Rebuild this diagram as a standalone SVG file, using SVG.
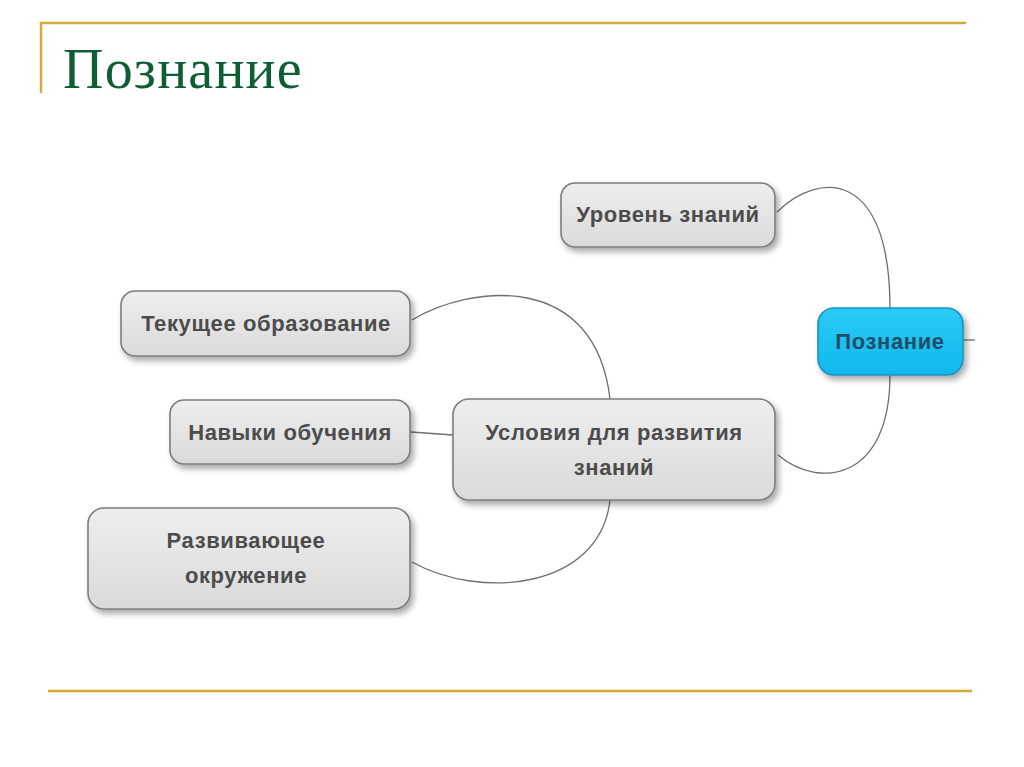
<svg xmlns="http://www.w3.org/2000/svg" width="1024" height="767" viewBox="0 0 1024 767">
<defs>
<linearGradient id="gGray" x1="0" y1="0" x2="0" y2="1">
<stop offset="0" stop-color="#eeeeee"/>
<stop offset="1" stop-color="#dadada"/>
</linearGradient>
<linearGradient id="gBlue" x1="0" y1="0" x2="0" y2="1">
<stop offset="0" stop-color="#2ccaf6"/>
<stop offset="1" stop-color="#10b8ec"/>
</linearGradient>
<filter id="sh" x="-10%" y="-20%" width="130%" height="150%">
<feGaussianBlur in="SourceAlpha" stdDeviation="3"/>
<feOffset dx="3" dy="4" result="b"/>
<feComponentTransfer><feFuncA type="linear" slope="0.35"/></feComponentTransfer>
<feMerge><feMergeNode/><feMergeNode in="SourceGraphic"/></feMerge>
</filter>
</defs>
<style>
.frame{stroke:#d6a935;stroke-width:2.5;fill:none}
.title{font-family:"Liberation Serif","Times New Roman",serif;font-size:56px;letter-spacing:1.2px;fill:#0d5e34}
.box{fill:url(#gGray);stroke:#7d7d7d;stroke-width:1.6;filter:url(#sh)}
.root{fill:url(#gBlue);stroke:#1d92bd;stroke-width:1.6;filter:url(#sh)}
.lbl{font-family:"Liberation Sans",Arial,sans-serif;font-size:22px;letter-spacing:0.6px;font-weight:bold;fill:#4c4c4c;text-anchor:middle}
.rlbl{font-family:"Liberation Sans",Arial,sans-serif;font-size:22px;letter-spacing:0.6px;font-weight:bold;fill:#1f4e66;text-anchor:middle}
.con{fill:none;stroke:#6e6e6e;stroke-width:1.3}
</style>
<rect width="1024" height="767" fill="#ffffff"/>
<g id="frame">
<line class="frame" x1="40" y1="23" x2="966" y2="23"/>
<line class="frame" x1="41" y1="22" x2="41" y2="93"/>
<line class="frame" x1="48" y1="691" x2="972" y2="691"/>
</g>
<text class="title" x="63" y="88">Познание</text>
<g id="connectors">
<path class="con" d="M777 212 C820 170 890 170 890 308"/>
<path class="con" d="M890 375 C890 480 820 490 778 455"/>
<path class="con" d="M412 320 C470 285 595 270 610 399"/>
<path class="con" d="M411 432 L453 435"/>
<path class="con" d="M610 500 C600 590 480 600 412 562"/>
<path class="con" d="M964 340 L975 340"/>
</g>
<g id="node-uroven">
<rect class="box" x="561" y="183" width="214" height="64" rx="14"/>
<text class="lbl" x="668" y="222">Уровень знаний</text>
</g>
<g id="node-tekushchee">
<rect class="box" x="121" y="291" width="289" height="65" rx="14"/>
<text class="lbl" x="266" y="331">Текущее образование</text>
</g>
<g id="node-navyki">
<rect class="box" x="170" y="400" width="240" height="64" rx="14"/>
<text class="lbl" x="290" y="440">Навыки обучения</text>
</g>
<g id="node-usloviya">
<rect class="box" x="453" y="399" width="322" height="101" rx="16"/>
<text class="lbl" x="614" y="440">Условия для развития</text>
<text class="lbl" x="614" y="475">знаний</text>
</g>
<g id="node-razvivayushchee">
<rect class="box" x="88" y="508" width="322" height="101" rx="16"/>
<text class="lbl" x="246" y="548">Развивающее</text>
<text class="lbl" x="246" y="583">окружение</text>
</g>
<g id="node-poznanie">
<rect class="root" x="818" y="308" width="145" height="67" rx="16"/>
<text class="rlbl" x="890" y="349">Познание</text>
</g>
</svg>
